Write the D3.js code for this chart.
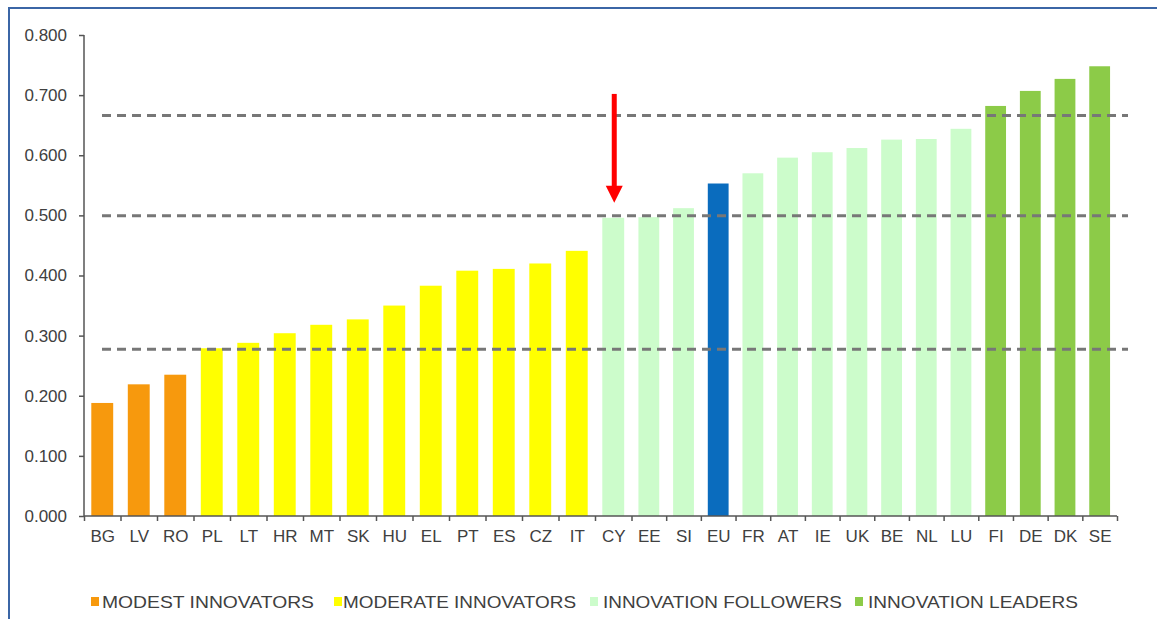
<!DOCTYPE html>
<html>
<head>
<meta charset="utf-8">
<script src="https://cdn.jsdelivr.net/npm/d3@7"></script>
<style>
  html, body { margin: 0; padding: 0; background: #fff; }
  svg { display: block; }
  text { font-family: "Liberation Sans", Arial, sans-serif; fill: #404040; }
</style>
</head>
<body>
<svg id="chart" width="1157" height="619"></svg>
<script>
// ---- data ----
const categories = ["BG","LV","RO","PL","LT","HR","MT","SK","HU","EL","PT","ES","CZ","IT",
                    "CY","EE","SI","EU","FR","AT","IE","UK","BE","NL","LU","FI","DE","DK","SE"];
const values = [0.188,0.219,0.235,0.279,0.288,0.304,0.318,0.327,0.350,0.383,0.408,0.411,0.420,0.441,
                0.496,0.497,0.512,0.553,0.570,0.596,0.605,0.612,0.626,0.627,0.644,0.682,0.707,0.727,0.748];
const groups = ["modest","modest","modest",
                "moderate","moderate","moderate","moderate","moderate","moderate","moderate","moderate","moderate","moderate","moderate",
                "follower","follower","follower","eu","follower","follower","follower","follower","follower","follower","follower",
                "leader","leader","leader","leader"];
const thresholds = [0.2775, 0.4995, 0.666];
const yTicks = [0, 0.1, 0.2, 0.3, 0.4, 0.5, 0.6, 0.7, 0.8];
const legendKeys = ["modest","moderate","follower","leader"];
const legendLabels = ["MODEST INNOVATORS","MODERATE INNOVATORS","INNOVATION FOLLOWERS","INNOVATION LEADERS"];
const arrowCategory = "CY";
const arrowFrom = 0.702, arrowTo = 0.521;

// ---- styles ----
const colors = { modest: "#F7990D", moderate: "#FFFF00", follower: "#CCFCCB", eu: "#0A6CBE", leader: "#8CCB48" };

const svg = d3.select("#chart");

// frame
svg.append("rect").attr("x", 9).attr("y", 8).attr("width", 1170).attr("height", 640)
  .attr("fill", "none").attr("stroke", "#3B66A6").attr("stroke-width", 2);

// scales
const y = d3.scaleLinear().domain([0, 0.8]).range([516, 35]);
const xi = d3.scaleLinear().domain([0, 15, categories.length]).range([84, 631.5, 1117]);
const bandCenter = i => (xi(i) + xi(i + 1)) / 2;
const bandW = i => xi(i + 1) - xi(i);

// bars
svg.append("g").selectAll("rect").data(values).join("rect")
  .attr("x", (d, i) => bandCenter(i) - bandW(i) * 0.3)
  .attr("width", (d, i) => bandW(i) * 0.6)
  .attr("y", d => y(d))
  .attr("height", d => y(0) - y(d))
  .attr("fill", (d, i) => colors[groups[i]]);

// threshold dashed lines
svg.append("g").selectAll("line").data(thresholds).join("line")
  .attr("x1", 102).attr("x2", 1128)
  .attr("y1", d => y(d)).attr("y2", d => y(d))
  .attr("stroke", "#777").attr("stroke-width", 3).attr("stroke-dasharray", "9,6");

// y axis
const yAxis = svg.append("g").attr("transform", "translate(84,0)")
  .call(d3.axisLeft(y).tickValues(yTicks).tickFormat(d3.format(".3f")).tickSize(5).tickPadding(12));
yAxis.select(".domain").attr("stroke", "#555").attr("stroke-width", 1.5).attr("d", `M0,${y(0.8)}V${y(0)}`);
yAxis.selectAll(".tick line").attr("stroke", "#555").attr("stroke-width", 1.5);
yAxis.selectAll(".tick text").style("font-size", "17px").style("font-family", "Liberation Sans, Arial, sans-serif")
  .attr("fill", "#404040");

// x axis (boundary ticks)
const xAxis = svg.append("g").attr("transform", `translate(0,${y(0)})`)
  .call(d3.axisBottom(xi).tickValues(d3.range(categories.length + 1)).tickFormat("").tickSize(5));
xAxis.select(".domain").attr("stroke", "#555").attr("stroke-width", 1.5).attr("d", `M${xi(0)},0H${xi(categories.length)}`);
xAxis.selectAll(".tick line").attr("stroke", "#555").attr("stroke-width", 1.5);

// x labels
const xLab = svg.append("g").attr("transform", `translate(0,${y(0)})`)
  .call(d3.axisBottom(xi).tickValues(d3.range(categories.length).map(i => i + 0.5))
    .tickFormat(d => categories[Math.floor(d)]).tickSize(0).tickPadding(14));
xLab.select(".domain").remove();
xLab.selectAll(".tick text").style("font-size", "17px").style("font-family", "Liberation Sans, Arial, sans-serif")
  .attr("fill", "#404040");

// arrow
const ai = categories.indexOf(arrowCategory);
const ax = bandCenter(ai) + 1;
svg.append("line").attr("x1", ax).attr("x2", ax).attr("y1", y(arrowFrom)).attr("y2", y(arrowTo) - 12)
  .attr("stroke", "#FF0000").attr("stroke-width", 5);
svg.append("path")
  .attr("d", `M${ax - 8.5},${y(arrowTo) - 17}L${ax + 8.5},${y(arrowTo) - 17}L${ax},${y(arrowTo)}Z`)
  .attr("fill", "#FF0000");

// legend
const legSwX = [91, 334, 590, 855];
const legTxX = [102, 343, 603, 868];
const legTxW = [212, 233, 239, 210];
const leg = svg.append("g");
legendKeys.forEach((k, i) => {
  leg.append("rect").attr("x", legSwX[i]).attr("y", 597).attr("width", 8).attr("height", 9).attr("fill", colors[k]);
  leg.append("text").attr("x", legTxX[i]).attr("y", 608)
    .attr("textLength", legTxW[i]).attr("lengthAdjust", "spacingAndGlyphs")
    .style("font-size", "17px").text(legendLabels[i]);
});
</script>
</body>
</html>
